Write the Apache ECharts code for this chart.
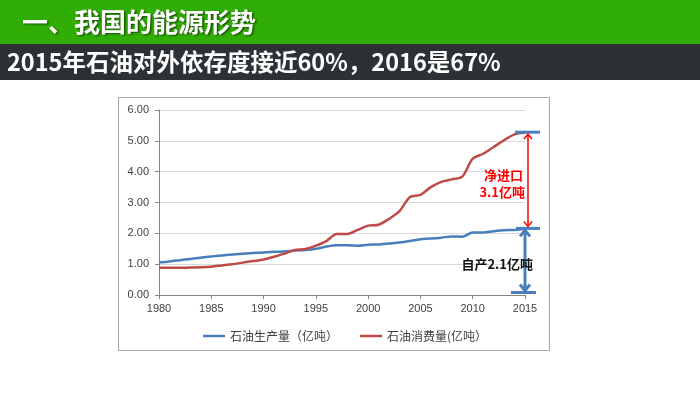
<!DOCTYPE html>
<html><head><meta charset="utf-8">
<script src="https://cdn.jsdelivr.net/npm/echarts@6/dist/echarts.min.js"></script>
<style>html,body{margin:0;padding:0;background:#fff}#c{width:700px;height:393px}</style>
</head><body><div id="c"></div>
<script>
const years = [1980,1981,1982,1983,1984,1985,1986,1987,1988,1989,1990,1991,1992,1993,1994,1995,1996,1997,1998,1999,2000,2001,2002,2003,2004,2005,2006,2007,2008,2009,2010,2011,2012,2013,2014,2015];
const production = [1.06,1.09,1.13,1.17,1.21,1.25,1.28,1.31,1.34,1.36,1.38,1.40,1.41,1.44,1.46,1.50,1.57,1.61,1.61,1.60,1.63,1.64,1.67,1.70,1.75,1.81,1.83,1.86,1.90,1.89,2.03,2.03,2.07,2.10,2.11,2.15];
const consumption = [0.88,0.88,0.88,0.89,0.90,0.92,0.96,1.00,1.05,1.10,1.15,1.24,1.34,1.46,1.49,1.60,1.75,1.98,1.98,2.11,2.25,2.28,2.47,2.72,3.18,3.25,3.50,3.67,3.75,3.84,4.42,4.58,4.80,5.02,5.21,5.26];
const seriesNames = ['石油生产量（亿吨）', '石油消费量(亿吨）'];
const yTicks = [0,1,2,3,4,5,6];
const annotValues = [5.28, 2.16, 0.08];
const annotLabels = ['净进口', '3.1亿吨', '自产2.1亿吨'];
const titleText = '一、我国的能源形势';
const subtitleText = '2015年石油对外依存度接近60%，2016是67%';

const FONT = '"Liberation Sans","Noto Sans CJK SC",sans-serif';
const CJK = '"Noto Sans CJK SC","Noto Sans",sans-serif';
const BLUE = '#4a7ebb', RED = '#be4b48';

const chart = echarts.init(document.getElementById('c'));
chart.setOption({
  animation: false,
  textStyle: {fontFamily: FONT},
  graphic: [
    {type:'rect', z:-10, shape:{x:0,y:0,width:700,height:44}, style:{fill:'#31ae05'}},
    {type:'rect', z:-10, shape:{x:0,y:44,width:700,height:36}, style:{fill:'#2b3134'}},
    {type:'rect', z:-10, shape:{x:118.5,y:97.5,width:431,height:253}, style:{fill:'#fff', stroke:'#a6a6a6', lineWidth:1}},
    {type:'text', z:10, x:22, y:22, style:{text:titleText, fill:'#fff', font:'bold 26px '+CJK, textVerticalAlign:'middle', textShadowColor:'rgba(0,0,0,0.55)', textShadowOffsetX:1.5, textShadowOffsetY:1.5, textShadowBlur:2}},
    {type:'text', z:10, x:7, y:62, style:{text:subtitleText, fill:'#fff', font:'bold 23.5px '+CJK, textVerticalAlign:'middle'}}
  ],
  grid: {left:159, right:175, top:110, bottom:98},
  legend: {
    left: 198, top: 325, icon: 'rect', itemWidth: 22, itemHeight: 2.5, itemGap: 22,
    textStyle: {color:'#404040', fontSize:12, fontFamily: CJK},
    data: seriesNames
  },
  xAxis: {
    type:'category', data: years.map(String), boundaryGap:false,
    axisLine:{lineStyle:{color:'#868686'}},
    axisTick:{interval:4, length:4, lineStyle:{color:'#868686'}},
    axisLabel:{interval:4, color:'#404040', fontSize:11, margin:8, fontFamily:FONT}
  },
  yAxis: {
    type:'value', min:yTicks[0], max:yTicks[yTicks.length-1], interval:1,
    axisLine:{show:true, lineStyle:{color:'#868686'}},
    axisTick:{show:true, length:4, lineStyle:{color:'#868686'}},
    splitLine:{lineStyle:{color:'#d9d9d9'}},
    axisLabel:{color:'#404040', fontSize:11, margin:10, fontFamily:FONT, formatter: v => v.toFixed(2)}
  },
  series: [
    {name:seriesNames[0], type:'line', data:production, smooth:0.3, showSymbol:false, lineStyle:{color:BLUE, width:2.5}, itemStyle:{color:BLUE}},
    {name:seriesNames[1], type:'line', data:consumption, smooth:0.3, showSymbol:false, lineStyle:{color:RED, width:2.5}, itemStyle:{color:RED}}
  ]
});

const last = years.length - 1;
const P = v => chart.convertToPixel({gridIndex:0}, [last, v]);
const x0 = P(annotValues[0])[0];
const yTop = P(annotValues[0])[1], yMid = P(annotValues[1])[1], yBot = P(annotValues[2])[1];
function chev(x, y, dir, s, color, w){
  return {type:'polyline', z:20, shape:{points:[[x-s, y+dir*s*1.2],[x,y],[x+s, y+dir*s*1.2]]}, style:{stroke:color, lineWidth:w, fill:null}};
}
const g = [
  {type:'line', z:20, shape:{x1:x0-10,y1:yTop,x2:x0+15,y2:yTop}, style:{stroke:BLUE, lineWidth:3}},
  {type:'line', z:20, shape:{x1:x0-9,y1:yMid,x2:x0+15,y2:yMid}, style:{stroke:BLUE, lineWidth:3}},
  {type:'line', z:20, shape:{x1:x0-14,y1:yBot,x2:x0+11,y2:yBot}, style:{stroke:BLUE, lineWidth:3}},
  {type:'line', z:20, shape:{x1:x0+3,y1:yTop+2,x2:x0+3,y2:yMid-2}, style:{stroke:'#ff0000', lineWidth:1.5}},
  chev(x0+3, yTop+2, 1, 4, '#ff0000', 1.5),
  chev(x0+3, yMid-2, -1, 4, '#ff0000', 1.5),
  {type:'line', z:20, shape:{x1:x0,y1:yMid+2,x2:x0,y2:yBot-2}, style:{stroke:BLUE, lineWidth:3}},
  chev(x0, yMid+2, 1, 5, BLUE, 3),
  chev(x0, yBot-2, -1, 5, BLUE, 3),
  {type:'text', z:30, x:x0-2, y:(yTop+yMid)/2-5, style:{text:annotLabels[0], fill:'#ff0000', font:'bold 13px '+CJK, textAlign:'right', textVerticalAlign:'middle'}},
  {type:'text', z:30, x:x0, y:(yTop+yMid)/2+12, style:{text:annotLabels[1], fill:'#ff0000', font:'bold 13px '+CJK, textAlign:'right', textVerticalAlign:'middle'}},
  {type:'text', z:30, x:x0+8, y:(yMid+yBot)/2+4, style:{text:annotLabels[2], fill:'#111', font:'bold 13px '+CJK, textAlign:'right', textVerticalAlign:'middle'}}
];
chart.setOption({graphic: g.map((e,i)=>Object.assign({id:'a'+i}, e))});
</script></body></html>
